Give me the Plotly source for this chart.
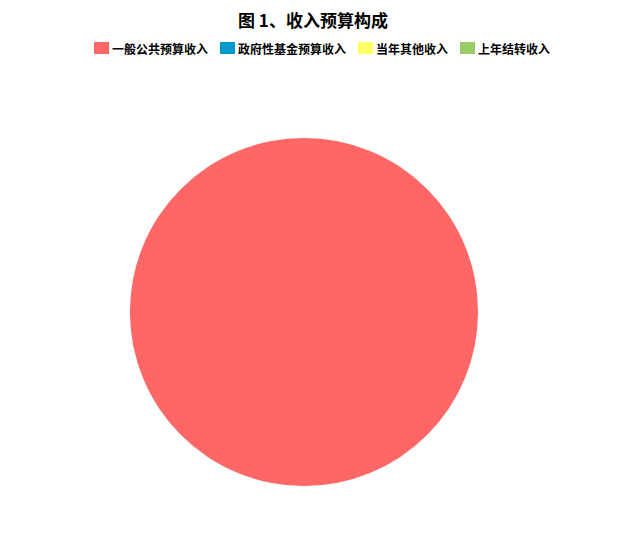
import plotly.graph_objects as go

# Dane wykresu
title_text = "图 1、收入预算构成"
labels = ["一般公共预算收入", "政府性基金预算收入", "当年其他收入", "上年结转收入"]
values = [100, 0, 0, 0]
colors = ["#FF6666", "#0099CC", "#FFFF66", "#99CC66"]

W, H = 640, 538
# strona ma 8px marginesu body, stąd przesunięcie
OFF = 8
FONT = "Noto Sans CJK SC"

cx, cy, r = 304 - OFF, 312 - OFF, 174

fig = go.Figure()
fig.add_trace(go.Pie(
    labels=labels,
    values=values,
    sort=False,
    direction="clockwise",
    marker=dict(colors=colors, line=dict(color="#FFFFFF", width=0)),
    textinfo="none",
    hoverinfo="label+value+percent",
    domain=dict(x=[(cx - r) / W, (cx + r) / W],
                y=[1 - (cy + r) / H, 1 - (cy - r) / H]),
    showlegend=False,
))

# Tytuł jako adnotacja
annotations = [dict(text="<b>" + title_text + "</b>", xref="paper", yref="paper",
                    x=(313 - OFF) / W, y=1 - (19.5 - OFF) / H,
                    xanchor="center", yanchor="middle", showarrow=False,
                    font=dict(size=17, family=FONT, color="#000000"))]

# Legenda: kwadrat tuż przy tekście, jak w oryginale
LEG_FS = 12
sw_w, sw_h = 15, 12
leg_y = 48 - OFF
x0 = 94 - OFF
shapes = []
for lab, col in zip(labels, colors):
    shapes.append(dict(type="rect", xref="paper", yref="paper",
                       x0=x0 / W, x1=(x0 + sw_w) / W,
                       y0=1 - (leg_y + sw_h / 2) / H, y1=1 - (leg_y - sw_h / 2) / H,
                       fillcolor=col, line=dict(width=0)))
    annotations.append(dict(text=lab, xref="paper", yref="paper",
                            x=(x0 + sw_w + 1) / W, y=1 - leg_y / H,
                            xanchor="left", yanchor="middle", showarrow=False,
                            font=dict(size=LEG_FS, family=FONT, color="#000000", weight="bold")))
    x0 += sw_w + 1 + LEG_FS * len(lab) + 14

fig.update_layout(
    width=W, height=H,
    margin=dict(l=0, r=0, t=0, b=0),
    paper_bgcolor="white",
    font=dict(family=FONT, color="#000000"),
    shapes=shapes,
    annotations=annotations,
)

fig.write_html("out.html")
